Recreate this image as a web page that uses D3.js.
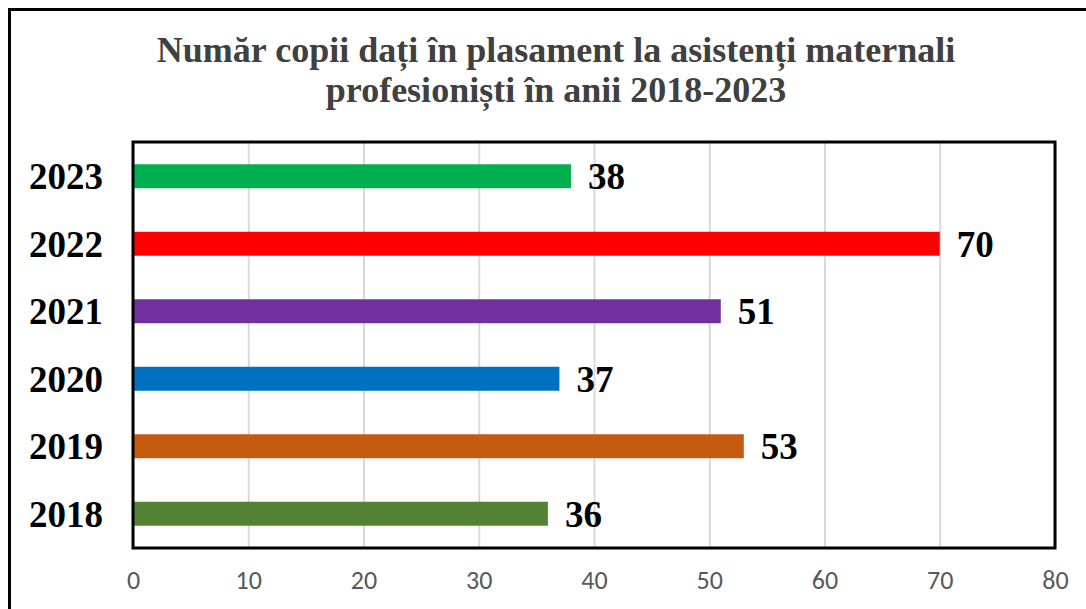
<!DOCTYPE html>
<html>
<head>
<meta charset="utf-8">
<script src="https://cdn.jsdelivr.net/npm/d3@7"></script>
<style>
  html, body { margin: 0; padding: 0; background: #fff; }
  svg { display: block; }
</style>
</head>
<body>
<div id="chart"></div>
<script>
// data
const years = ['2023', '2022', '2021', '2020', '2019', '2018']
const values = [38, 70, 51, 37, 53, 36]
const barColors = ['#00B050', '#FF0000', '#7030A0', '#0070C0', '#C55A11', '#548235']
const xTicks = [0, 10, 20, 30, 40, 50, 60, 70, 80]
const titleLines = ['Număr copii dați în plasament la asistenți maternali', 'profesioniști în anii 2018-2023']

// consts
const width = 1086, height = 609
const plot = { left: 133, top: 142, right: 1055, bottom: 548 }

const svg = d3.select('#chart')
    .append('svg')
    .attr('width', width)
    .attr('height', height)

// outer border (chart area)
svg.append('rect')
    .attr('x', 9.5).attr('y', 9.5)
    .attr('width', 1200).attr('height', 700)
    .attr('fill', 'none')
    .attr('stroke', '#000')
    .attr('stroke-width', 3)

// title
svg.append('text')
    .attr('x', 556)
    .attr('text-anchor', 'middle')
    .style('font-family', '"Liberation Serif", "Times New Roman", serif')
    .style('font-weight', 'bold')
    .style('font-size', '36px')
    .attr('fill', '#404040')
    .selectAll('tspan')
    .data(titleLines)
    .enter()
    .append('tspan')
    .attr('x', 556)
    .attr('y', (d, i) => 62 + i * 40)
    .text(d => d)

// scales
const x = d3.scaleLinear().domain([0, 80]).range([plot.left, plot.right])
const y = d3.scaleBand().domain(years).range([plot.top, plot.bottom]).paddingInner(0.645).paddingOuter(0.33)

// gridlines
svg.append('g')
    .attr('transform', `translate(0, ${plot.bottom})`)
    .call(d3.axisBottom(x).tickValues(xTicks).tickSize(-(plot.bottom - plot.top)).tickFormat(''))
    .call(g => g.select('.domain').remove())
    .call(g => g.selectAll('line').attr('stroke', '#d9d9d9').attr('stroke-width', 2))

// bars
svg.append('g')
    .selectAll('rect')
    .data(years)
    .enter()
    .append('rect')
    .attr('x', x(0))
    .attr('y', d => y(d))
    .attr('width', (d, i) => x(values[i]) - x(0))
    .attr('height', y.bandwidth())
    .attr('fill', (d, i) => barColors[i])

// value labels
svg.append('g')
    .selectAll('text')
    .data(years)
    .enter()
    .append('text')
    .attr('x', (d, i) => x(values[i]) + 17)
    .attr('y', d => y(d) + y.bandwidth() / 2 + 13)
    .style('font-family', '"Liberation Serif", "Times New Roman", serif')
    .style('font-weight', 'bold')
    .style('font-size', '37px')
    .attr('fill', '#000')
    .text((d, i) => values[i])

// plot frame
svg.append('rect')
    .attr('x', plot.left).attr('y', plot.top)
    .attr('width', plot.right - plot.left).attr('height', plot.bottom - plot.top)
    .attr('fill', 'none')
    .attr('stroke', '#000')
    .attr('stroke-width', 3)

// y axis labels
svg.append('g')
    .attr('transform', `translate(${plot.left - 30}, 0)`)
    .call(d3.axisLeft(y).tickSize(0).tickPadding(0))
    .call(g => g.select('.domain').remove())
    .call(g => g.selectAll('text')
        .attr('dy', '0.35em')
        .style('font-family', '"Liberation Serif", "Times New Roman", serif')
        .style('font-weight', 'bold')
        .style('font-size', '37px')
        .attr('fill', '#000'))

// x axis labels
svg.append('g')
    .attr('transform', `translate(0, ${plot.bottom})`)
    .call(d3.axisBottom(x).tickValues(xTicks).tickSize(0).tickPadding(23))
    .call(g => g.select('.domain').remove())
    .call(g => g.selectAll('text')
        .style('font-family', 'Carlito, Calibri, "Liberation Sans", sans-serif')
        .style('font-size', '26px')
        .attr('fill', '#595959'))
</script>
</body>
</html>
